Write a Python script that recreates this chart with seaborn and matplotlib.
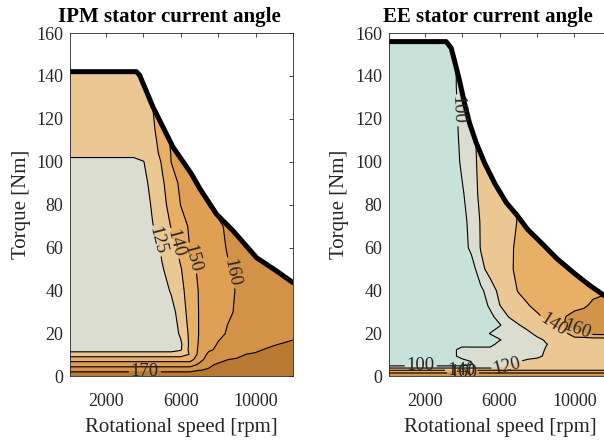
import numpy as np
import matplotlib
matplotlib.use("Agg")
import matplotlib.pyplot as plt
from matplotlib.patches import Polygon
import seaborn as sns

sns.set_theme(style="white")
plt.rcParams["font.family"] = ["Liberation Serif", "DejaVu Serif"]

# ---- operating-map grid (rpm) shared by both machines ----
speed_grid = [100, 3500, 4000, 4500, 5000, 5500, 6000, 6500, 7000, 7500,
              8000, 8500, 9000, 9500, 10000, 10500, 11000, 11500, 12000]

# ---- IPM machine: stator current angle [deg] over (torque, speed) ----
ipm_torque_grid = [0.5, 3, 5.5, 8, 10.3, 12.5, 15, 20, 30, 40, 50, 60,
                   70, 80, 90, 100, 104, 115, 130, 160]
ipm_angle = [
    [180, 180, 180, 180, 180, 180, 180, 180, 180, 180, 180, 180, 180, 180, 180, 180, 180, 180, 180],
    [165, 165, 165, 165, 165, 165, 165, 165, 169.5, 171, 172, 172.8, 173.5, 174.2, 175, 175.7, 176.4, 177.2, 178],
    [156.7, 156.7, 156.7, 156.7, 156.7, 156.7, 156.7, 156.7, 161.2, 168, 171.5, 172, 172.5, 173, 173.5, 174, 174.6, 175.3, 176],
    [144.7, 144.7, 144.7, 144.7, 144.7, 144.7, 144.7, 144.7, 157.5, 162.7, 166, 169.8, 170.5, 171, 171.6, 172.2, 172.8, 173.4, 174],
    [135.7, 135.7, 135.7, 135.7, 135.7, 135.7, 135.7, 140.5, 153.2, 162, 163.8, 166, 168.2, 170.1, 170.7, 171.3, 171.8, 172.4, 173],
    [116, 116, 116, 116, 116, 116, 122.9, 144.3, 151.4, 158.6, 161.5, 163.3, 165.2, 167, 168.9, 170.3, 171, 171.8, 172.5],
    [116, 116, 116, 116, 116, 116, 122.2, 143.1, 151.1, 156.7, 160.6, 162.1, 163.6, 165.2, 166.7, 168.2, 169.7, 170.4, 171],
    [116, 116, 116, 116, 116, 116, 127.3, 143.3, 150.5, 154.3, 158.1, 160.6, 161.7, 162.8, 164, 165.1, 166.2, 167.4, 168.5],
    [116, 116, 116, 116, 116, 117, 134.5, 144, 150.5, 153.4, 156.2, 159.1, 160.6, 161.5, 162.4, 163.3, 164.2, 165.1, 166],
    [116, 116, 116, 116, 116, 127, 137, 144.9, 150.7, 153.3, 155.9, 158.4, 160.4, 161.3, 162.3, 163.2, 164.1, 165.1, 166],
    [116, 116, 116, 116, 123.5, 131.3, 139.2, 146.9, 151.6, 154.2, 156.8, 159.5, 160.7, 161.6, 162.5, 163.4, 164.2, 165.1, 166],
    [116, 116, 116, 116, 127.5, 135.8, 143.3, 150.2, 152.8, 155.6, 158.5, 160.3, 161, 161.6, 162.3, 163, 163.7, 164.3, 165],
    [116, 116, 116, 124.2, 132.5, 140.6, 146.5, 151.1, 153.9, 156.7, 159.4, 160.5, 161.2, 161.8, 162.4, 163.1, 163.7, 164.4, 165],
    [116, 116, 116, 127.2, 136.3, 143.8, 150.1, 153.3, 156.7, 160.1, 161, 161.5, 162, 162.5, 163, 163.5, 164, 164.5, 165],
    [116, 116, 120.6, 129.4, 138.2, 145.7, 151.7, 155.8, 160.1, 161, 161.5, 162, 162.5, 163, 163.5, 164, 164.5, 165, 165.5],
    [118, 118, 124.2, 132.5, 140.9, 150.1, 155, 160.1, 161, 161.5, 162, 162.5, 163, 163.5, 164, 164.5, 165, 165.5, 166],
    [132, 132, 133, 136.9, 141.8, 150.5, 155.8, 160.5, 161.5, 162, 162.5, 163, 163.5, 164, 164.5, 165, 165.5, 166, 166.5],
    [133, 133, 134, 138.2, 144.9, 152.2, 157.8, 160.6, 161.5, 162, 162.5, 163, 163.5, 164, 164.5, 165, 165.5, 166, 166.5],
    [133, 133, 136, 140.5, 150.1, 155, 160.1, 161, 161.5, 162, 162.5, 163, 163.5, 164, 164.5, 165, 165.5, 166, 166.5],
    [133, 133, 136, 140.5, 150.1, 155, 160.1, 161, 161.5, 162, 162.5, 163, 163.5, 164, 164.5, 165, 165.5, 166, 166.5],
]
ipm_env_speed = [100, 3640, 3820, 4530, 5600, 6580, 7030, 7920, 8810, 10060, 11130, 12000]
ipm_env_torque = [142, 142, 140.3, 125.5, 106.8, 94.4, 87.5, 75.6, 67.8, 55.3, 49.1, 43.7]
ipm_levels = [125, 140, 150, 160, 170]
ipm_colors = ["#DADDCF", "#EBC794", "#E8AF66", "#DF9F55", "#D29247", "#B87A33"]

# ---- EE machine: stator current angle [deg] over (torque, speed) ----
ee_torque_grid = [0.5, 1.5, 2.5, 3.5, 4.5, 5.5, 7, 9.5, 12.5, 15, 17, 20, 24,
                  28, 33, 40, 50, 60, 72, 85, 100, 115, 135, 160]
ee_angle = [
    [172, 172, 172, 172, 172, 172, 172, 172, 172, 172, 172, 172, 172, 172, 172, 172, 172, 172, 172],
    [162, 162, 162, 162, 162, 162, 162, 162, 162, 162, 162, 162, 162, 162, 162, 162, 162, 162, 162],
    [148, 148, 148, 148, 148, 148, 148, 148, 148, 148, 148, 148, 148, 148, 148, 148, 148, 148, 148],
    [128, 128, 128, 128, 128, 128, 128, 128, 128, 128, 128, 128, 128, 128, 128, 128, 128, 128, 128],
    [110, 110, 110, 110, 110, 110, 112, 126, 128, 128, 128, 128, 128, 128, 128, 128, 128, 128, 128],
    [88, 88, 88, 100.5, 110, 110, 112, 118, 124, 128, 128, 128, 128, 128, 128, 128, 128, 128, 128],
    [88, 88, 88, 100.5, 110, 110, 110, 110, 119, 126, 128, 128, 128, 128, 128, 128, 128, 128, 128],
    [88, 92, 112, 111, 111, 111, 111, 111, 111, 111, 115, 124, 128, 128, 128, 128, 128, 128, 128],
    [88, 92, 112, 111, 111, 111, 111, 111, 111, 111, 114, 121.5, 128, 128, 128, 128, 128, 128, 128],
    [88, 88, 88, 88, 88, 88, 112, 111, 111, 111, 111, 119.5, 124, 128, 128, 128, 128, 128, 128],
    [88, 88, 88, 88, 88, 88, 98, 111, 111, 111, 116, 122, 128, 128, 128, 128, 128, 128, 128],
    [88, 88, 88, 88, 88, 101, 111, 111, 111, 116, 124, 128, 132, 134, 155, 158, 165, 166, 166],
    [88, 88, 88, 88, 88, 88, 98, 112, 119, 126, 130, 135, 142, 161, 165, 166, 166, 166, 166],
    [88, 88, 88, 88, 88, 94, 110, 121, 128, 133, 137.5, 143, 152, 159.5, 165, 166, 166, 166, 166],
    [88, 88, 88, 88, 88, 104, 119.5, 127, 133, 139, 144, 148, 151, 153, 155, 158, 163, 166, 166],
    [88, 88, 88, 88, 95, 112, 124, 132, 141, 145, 148, 150, 152, 153, 154, 155, 156, 157, 158],
    [88, 88, 88, 88, 115.5, 126, 132, 137.5, 143, 147, 150, 151, 152, 153, 154, 155, 156, 157, 158],
    [88, 88, 88, 106, 121, 127, 132, 137, 143, 147, 150, 151, 152, 153, 154, 155, 156, 157, 158],
    [88, 88, 88, 111, 121, 125.5, 130, 135, 141, 146, 150, 151, 152, 153, 154, 155, 156, 157, 158],
    [88, 88, 97, 112, 124, 127, 130, 133, 140.5, 146, 150, 151, 152, 153, 154, 155, 156, 157, 158],
    [88, 88, 104, 114, 125, 129, 132, 135, 140.5, 146, 150, 151, 152, 153, 154, 155, 156, 157, 158],
    [88, 92, 106, 117, 124, 128, 131, 134, 140.5, 146, 150, 151, 152, 153, 154, 155, 156, 157, 158],
    [88, 95, 108, 115, 124, 128, 131, 134, 140.5, 146, 150, 151, 152, 153, 154, 155, 156, 157, 158],
    [88, 97, 106, 115, 124, 128, 131, 134, 140.5, 146, 150, 151, 152, 153, 154, 155, 156, 157, 158],
]
ee_env_speed = [100, 3150, 3420, 3600, 3860, 4130, 4400, 4750, 5200, 5740, 6360,
                6900, 7500, 8200, 9050, 10000, 10800, 11540, 12000]
ee_env_torque = [156, 156, 153, 147, 138, 127.3, 118, 109, 99.5, 90, 81,
                 75.5, 68.5, 62.5, 55, 48, 42.5, 38, 35.5]
ee_levels = [100, 120, 140, 160]
ee_colors = ["#C8E2D9", "#DADDCF", "#EBC794", "#E8AF66", "#D29448"]

speed_ticks = [2000, 4000, 6000, 8000, 10000, 12000]
speed_tick_labels = ["2000", "", "6000", "", "10000", ""]
torque_ticks = [0, 20, 40, 60, 80, 100, 120, 140, 160]

ink = "#262626"


def draw_map(ax, torque_grid, angle, levels, fill_colors, env_speed, env_torque,
             label_spots, title):
    z = np.array(angle, dtype=float)
    bounds = [0] + levels + [200]
    filled = ax.contourf(speed_grid, torque_grid, z, levels=bounds, colors=fill_colors)
    lines = ax.contour(speed_grid, torque_grid, z, levels=levels, colors="black",
                       linewidths=0.8)

    # keep the map inside the maximum-torque envelope
    outline = np.column_stack([[env_speed[0]] + env_speed + [env_speed[-1]],
                               [0] + env_torque + [0]])
    region = Polygon(outline, closed=True, transform=ax.transData)
    filled.set_clip_path(region)
    lines.set_clip_path(region)

    ax.clabel(lines, levels=levels, manual=label_spots, inline=True, fmt="%d",
              fontsize=13.5, inline_spacing=2, colors=ink)

    sns.lineplot(x=env_speed, y=env_torque, ax=ax, color="black", linewidth=3.6,
                 sort=False, estimator=None, legend=False)

    ax.set_xlim(100, 12000)
    ax.set_ylim(0, 160)
    ax.set_xticks(speed_ticks)
    ax.set_xticklabels(speed_tick_labels)
    ax.set_yticks(torque_ticks)
    ax.tick_params(direction="in", length=3, width=0.6, top=True, right=True,
                   labelsize=13, colors=ink)
    ax.tick_params(axis="x", pad=12)
    ax.tick_params(axis="y", pad=5)
    for spine in ax.spines.values():
        spine.set_color(ink)
        spine.set_linewidth(0.6)
    ax.set_xlabel("Rotational speed [rpm]", fontsize=15, color=ink, labelpad=6)
    ax.set_ylabel("Torque [Nm]", fontsize=15, color=ink, labelpad=4)
    ax.set_title(title, fontsize=15, fontweight="bold", color="black", x=0.445, pad=8)


fig = plt.figure(figsize=(6.04, 4.42), dpi=100)
ax_ipm = fig.add_axes([0.1159, 0.1482, 0.3692, 0.7771])
ax_ee = fig.add_axes([0.6440, 0.1482, 0.3692, 0.7771])

draw_map(ax_ipm, ipm_torque_grid, ipm_angle, ipm_levels, ipm_colors,
         ipm_env_speed, ipm_env_torque,
         [(4710, 63), (5690, 62), (6580, 55), (8540, 48), (4100, 2)],
         "IPM stator current angle")

draw_map(ax_ee, ee_torque_grid, ee_angle, ee_levels, ee_colors,
         ee_env_speed, ee_env_torque,
         [(3700, 124), (8870, 24), (10150, 21.5), (6400, 5), (1800, 5),
          (3950, 2.8), (4050, 1.6)],
         "EE stator current angle")

fig.savefig("out.png", dpi=100)
